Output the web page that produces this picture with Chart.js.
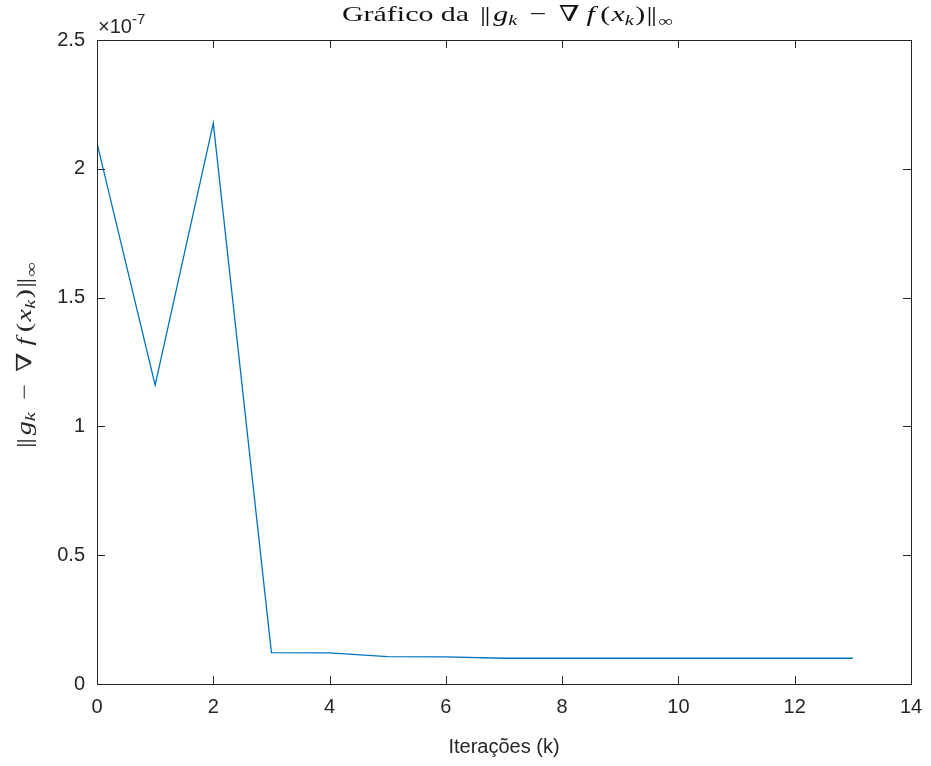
<!DOCTYPE html>
<html>
<head>
<meta charset="utf-8">
<script src="https://cdn.jsdelivr.net/npm/chart.js@4"></script>
<style>
  html, body { margin: 0; padding: 0; background: #fff; }
  #wrap { width: 931px; height: 766px; }
</style>
</head>
<body>
<div id="wrap"><canvas id="myChart" width="931" height="766"></canvas></div>
<script>
// iterations and error values (in units of 1e-7)
const iteracoes = [0, 1, 2, 3, 4, 5, 6, 7, 8, 9, 10, 11, 12, 13];
const erro = [2.10, 1.16, 2.177, 0.122, 0.121, 0.106, 0.105, 0.100, 0.100, 0.100, 0.100, 0.100, 0.100, 0.100];
const xTicks = [0, 2, 4, 6, 8, 10, 12, 14];
const yTicks = [0, 0.5, 1, 1.5, 2, 2.5];
const yTickLabels = ['0', '0.5', '1', '1.5', '2', '2.5'];

const axisColor = '#262626';
const sans = 'Arial, "Liberation Sans", Helvetica, sans-serif';
const serif = '"Liberation Serif", "DejaVu Serif", "Times New Roman", serif';

// text pieces: [text, italic, sizeScale, yOffset]; a number is a gap in px
function setFont(ctx, p, size) {
  ctx.font = (p[1] ? 'italic ' : '') + Math.round(size * (p[2] || 1)) + 'px ' + serif;
}
function richWidth(ctx, parts, size) {
  let w = 0;
  parts.forEach(p => {
    if (typeof p === 'number') { w += p; return; }
    setFont(ctx, p, size);
    w += ctx.measureText(p[0]).width;
  });
  return w;
}
// draws the run, stretched a little horizontally to targetW
function drawRich(ctx, parts, x, y, size, targetW) {
  const w = richWidth(ctx, parts, size);
  ctx.save();
  ctx.translate(x, y);
  ctx.scale(targetW / w, 1);
  let cx = 0;
  parts.forEach(p => {
    if (typeof p === 'number') { cx += p; return; }
    setFont(ctx, p, size);
    ctx.fillText(p[0], cx, p[3] || 0);
    cx += ctx.measureText(p[0]).width;
  });
  ctx.restore();
}
const normParts = [
  ['|', false], -1, ['|', false], 2, ['g', true], ['k', true, 0.7, 4], 9, ['\u2212', false], 9, ['\u2207', false], 5,
  ['f', true], 4, ['(', false], 1, ['x', true], ['k', true, 0.7, 4], 1, [')', false], 1,
  ['|', false], -1, ['|', false], 1, ['\u221E', false, 0.7, 5]
];

const matlabAxes = {
  id: 'matlabAxes',
  afterDraw(chart) {
    const ctx = chart.ctx;
    const a = chart.chartArea;
    const xs = chart.scales.x, ys = chart.scales.y;
    const tl = 8;
    ctx.save();
    ctx.strokeStyle = axisColor;
    ctx.lineWidth = 1;
    ctx.strokeRect(Math.round(a.left) + 0.5, Math.round(a.top) + 0.5,
      Math.round(a.right - a.left), Math.round(a.bottom - a.top));
    ctx.beginPath();
    xTicks.forEach(t => {
      const px = Math.round(xs.getPixelForValue(t)) + 0.5;
      ctx.moveTo(px, a.bottom); ctx.lineTo(px, a.bottom - tl);
      ctx.moveTo(px, a.top); ctx.lineTo(px, a.top + tl);
    });
    yTicks.forEach(t => {
      const py = Math.round(ys.getPixelForValue(t)) + 0.5;
      ctx.moveTo(a.left, py); ctx.lineTo(a.left + tl, py);
      ctx.moveTo(a.right, py); ctx.lineTo(a.right - tl, py);
    });
    ctx.stroke();

    // tick labels
    ctx.fillStyle = axisColor;
    ctx.font = '20px ' + sans;
    ctx.textAlign = 'center';
    ctx.textBaseline = 'middle';
    xTicks.forEach(t => ctx.fillText(String(t), xs.getPixelForValue(t), a.bottom + 23));
    ctx.textAlign = 'right';
    yTicks.forEach((t, i) => ctx.fillText(yTickLabels[i], a.left - 12, ys.getPixelForValue(t)));

    // exponent
    ctx.textAlign = 'left';
    ctx.textBaseline = 'alphabetic';
    ctx.font = '20px ' + sans;
    ctx.fillText('\u00D710', a.left + 1, a.top - 7);
    const w10 = ctx.measureText('\u00D710').width;
    ctx.font = '15px ' + sans;
    ctx.fillText('-7', a.left + 1 + w10, a.top - 16);

    // x title
    ctx.font = '20px ' + sans;
    ctx.textAlign = 'center';
    ctx.fillText('Itera\u00E7\u00F5es (k)', (a.left + a.right) / 2, a.bottom + 69);

    // title
    ctx.textAlign = 'left';
    ctx.fillStyle = '#111';
    const titleParts = [['Gr\u00E1fico da', false], 8].concat(normParts);
    drawRich(ctx, titleParts, 342, 21, 22, 331);

    // y title
    ctx.fillStyle = axisColor;
    ctx.translate(31, 355);
    ctx.rotate(-Math.PI / 2);
    drawRich(ctx, normParts, -93, 0, 21, 186);
    ctx.restore();
  }
};

new Chart('myChart', {
  type: 'line',
  data: {
    datasets: [{
      data: iteracoes.map((k, i) => ({ x: k, y: erro[i] })),
      borderColor: '#0072BD',
      borderWidth: 1.3,
      pointRadius: 0,
      tension: 0,
      fill: false
    }]
  },
  options: {
    responsive: false,
    animation: false,
    layout: { padding: { left: 97, top: 40, right: 20, bottom: 82 } },
    plugins: { legend: { display: false }, tooltip: { enabled: false } },
    scales: {
      x: { type: 'linear', min: 0, max: 14, display: false },
      y: { type: 'linear', min: 0, max: 2.5, display: false }
    }
  },
  plugins: [matlabAxes]
});
</script>
</body>
</html>
